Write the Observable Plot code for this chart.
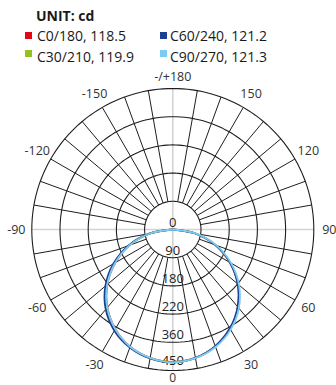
<!DOCTYPE html>
<html>
<head>
<meta charset="utf-8">
<script src="https://cdn.jsdelivr.net/npm/d3@7"></script>
<script src="https://cdn.jsdelivr.net/npm/@observablehq/plot@0.6"></script>
<style>
  html, body { margin: 0; padding: 0; background: #fff; }
  body { width: 336px; height: 385px; overflow: hidden; font-family: "Open Sans", sans-serif; color: #1a1a1a; }
  #head { position: relative; height: 66px; z-index: 2; }
  #head .t { position: absolute; left: 36px; top: 9px; font-weight: bold; font-size: 14px; line-height: 14px; }
  #head .item { position: absolute; font-size: 14px; line-height: 14px; white-space: nowrap; }
  #head .sw { position: absolute; width: 7px; height: 7px; }
  #chart { position: relative; z-index: 1; }
  #chart svg { display: block; background: transparent !important; }
</style>
</head>
<body>
<div id="head"></div>
<div id="chart"></div>
<script>
// ---- data ----
const seriesNames = ["C0/180", "C30/210", "C60/240", "C90/270"];
const beamAngles = [118.5, 119.9, 121.2, 121.3];
const seriesColors = ["#e30613", "#95c11f", "#1c3f94", "#7ccbf2"];
const gammas = [-90, -80, -70, -60, -50, -40, -30, -20, -10, 0, 10, 20, 30, 40, 50, 60, 70, 80, 90];
const c0_180  = [0, 74, 146, 212, 273, 325, 367, 398, 416, 423, 416, 397, 366, 323, 271, 210, 144, 73, 0];
const c30_210 = [0, 75, 148, 215, 276, 328, 369, 399, 417, 423, 416, 397, 366, 324, 272, 211, 145, 74, 0];
const c60_240 = [0, 77, 151, 219, 281, 333, 373, 401, 418, 424, 416, 396, 364, 322, 270, 210, 144, 73, 0];
const c90_270 = [0, 74, 146, 212, 273, 325, 367, 398, 416, 424, 417, 399, 369, 328, 276, 215, 148, 76, 0];
const seriesValues = [c0_180, c30_210, c60_240, c90_270];

const radialTicks = [0, 90, 180, 270, 360, 450];
const radialLabels = ["0", "90", "180", "220", "360", "450"];
const angleTicks = [0, 30, 60, 90, 120, 150, 180, -150, -120, -90, -60, -30];
const angleLabels = ["0", "30", "60", "90", "120", "150", "-/+180", "-150", "-120", "-90", "-60", "-30"];
const unitTitle = "UNIT: cd";

// ---- legend (HTML above the SVG) ----
const head = document.getElementById("head");
const t = document.createElement("div");
t.className = "t"; t.textContent = unitTitle; head.appendChild(t);
const legendPos = [[25, 32, 37, 29], [25, 50, 37, 50], [160, 32, 170, 29], [160, 50, 170, 50]];
seriesNames.forEach((name, i) => {
  const [sx, sy, tx, ty] = legendPos[i];
  const sw = document.createElement("div");
  sw.className = "sw"; sw.style.left = sx + "px"; sw.style.top = sy + "px"; sw.style.background = seriesColors[i];
  head.appendChild(sw);
  const it = document.createElement("div");
  it.className = "item"; it.style.left = tx + "px"; it.style.top = ty + "px";
  it.textContent = `${name}, ${beamAngles[i]}`;
  head.appendChild(it);
});

// ---- geometry helpers ----
const rad = d => d * Math.PI / 180;
const px = (r, g) => r * Math.sin(rad(g));
const py = (r, g) => -r * Math.cos(rad(g));
const rMax = d3.max(radialTicks);
const rInner = radialTicks[1];

// curves
const rows = [];
seriesNames.forEach((s, i) => {
  gammas.forEach((g, j) => {
    const v = seriesValues[i][j];
    rows.push({series: s, gamma: g, I: v, x: px(v, g), y: py(v, g)});
  });
});

// ring grid
const ringPts = [];
radialTicks.filter(r => r > 0).forEach(r => {
  for (let a = 0; a <= 360; a += 2) ringPts.push({r, x: px(r, a), y: py(r, a)});
});
// spokes
const spokeAngles = d3.range(0, 360, 10);
const blackSpokes = spokeAngles.filter(a => a % 90 !== 0).map(a => ({
  x1: px(rInner, a), y1: py(rInner, a), x2: px(rMax, a), y2: py(rMax, a)
}));
const graySpokes = spokeAngles.filter(a => a % 90 === 0).map(a => ({
  x1: 0, y1: 0, x2: px(rMax, a), y2: py(rMax, a)
}));
// labels
const angleText = angleTicks.map((a, i) => {
  const lr = rMax * (Math.abs(a) % 180 === 0 ? (a === 0 ? 1.055 : 1.08) : 1.11);
  return {x: px(lr, a), y: py(lr, a), label: angleLabels[i], size: a === 0 ? 12 : 12.5};
});
const radialText = radialTicks.map((r, i) => ({x: 0, y: py(r, 0), label: radialLabels[i], dy: r === rMax ? -9.5 : -7}));

const cx = 172.3, cy = 163, R = 141;

const chart = Plot.plot({
  width: 336,
  height: 319,
  margin: 0,
  style: {fontFamily: "Open Sans, sans-serif", fontSize: "12.5px", color: "#333", background: "transparent", overflow: "visible"},
  x: {domain: [-rMax, rMax], range: [cx - R, cx + R], axis: null},
  y: {domain: [-rMax, rMax], range: [cy + R, cy - R], axis: null},
  color: {domain: seriesNames, range: seriesColors},
  marks: [
    Plot.link(graySpokes, {x1: "x1", y1: "y1", x2: "x2", y2: "y2", stroke: "#d4d4d4", strokeWidth: 1.6}),
    Plot.link(blackSpokes, {x1: "x1", y1: "y1", x2: "x2", y2: "y2", stroke: "#1e1e1e", strokeWidth: 1}),
    Plot.line(ringPts, {x: "x", y: "y", z: "r", stroke: "#1e1e1e", strokeWidth: 1.1}),
    ...radialText.map(d => Plot.text([d], {x: "x", y: "y", text: "label", dy: d.dy, fill: "#222", fontSize: 13})),
    Plot.line(rows, {x: "x", y: "y", z: "series", stroke: "series", strokeWidth: 1.8, curve: "catmull-rom"}),
    ...angleText.map(d => Plot.text([d], {x: "x", y: "y", text: "label", fill: "#333", fontSize: d.size}))
  ]
});
document.getElementById("chart").appendChild(chart);
</script>
</body>
</html>
